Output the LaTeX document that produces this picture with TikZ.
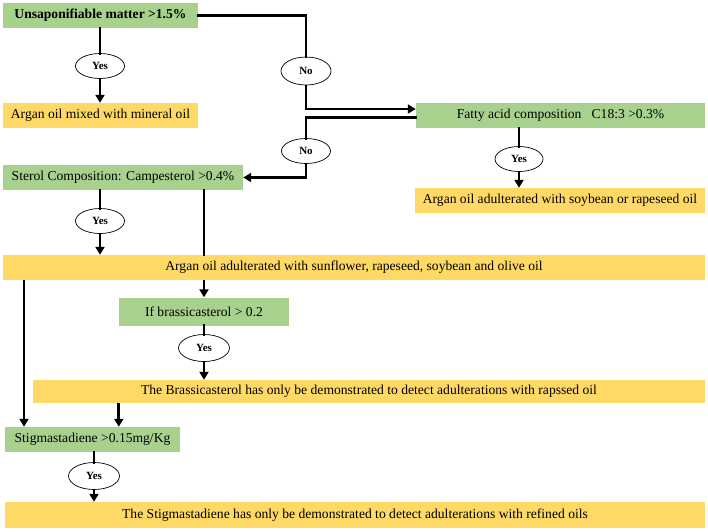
\documentclass[tikz,border=0pt]{standalone}
\usepackage{fontspec}
\setmainfont{Liberation Serif}
\usetikzlibrary{arrows.meta,shapes.geometric}
\definecolor{boxgreen}{HTML}{A9D18E}
\definecolor{boxyellow}{HTML}{FFD966}
\tikzset{
  gbox/.style={rectangle,fill=boxgreen,draw=none,inner sep=0pt,font=\fontsize{13.6}{15}\selectfont},
  ybox/.style={rectangle,fill=boxyellow,draw=none,inner sep=0pt,font=\fontsize{13.6}{15}\selectfont},
  oval/.style={ellipse,draw=black,line width=0.7pt,fill=white,inner sep=0pt,font=\fontsize{11}{12}\selectfont\bfseries},
  conn/.style={line width=2.8pt,line cap=rect},
  arr/.style={line width=2.8pt,-{Triangle[length=8pt,width=9pt]}},
}
\begin{document}
\begin{tikzpicture}[x=1pt,y=-1pt]
\useasboundingbox[fill=white] (0,0) rectangle (708,531);
% boxes
\node[gbox,minimum width=195pt,minimum height=25pt,font=\fontsize{13.6}{15}\selectfont\bfseries] (u) at (100.5,15.5) {Unsaponifiable matter >1.5\%};
\node[ybox,minimum width=195pt,minimum height=25pt] (m) at (100.5,115.5) {Argan oil mixed with mineral oil};
\node[gbox,minimum width=289pt,minimum height=25pt] (f) at (560.5,115.5) {Fatty acid composition\ \ \ C18:3 >0.3\%};
\node[ybox,minimum width=290pt,minimum height=25pt] (s2) at (560,200.5) {Argan oil adulterated with soybean or rapeseed oil};
\node[gbox,minimum width=240pt,minimum height=25pt] (st) at (123,177.5) {Sterol Composition: Campesterol >0.4\%};
\node[ybox,minimum width=702pt,minimum height=25pt] (a) at (354,267.5) {Argan oil adulterated with sunflower, rapeseed, soybean and olive oil};
\node[gbox,minimum width=170pt,minimum height=28pt] (b) at (204,311.5) {If brassicasterol > 0.2};
\node[ybox,minimum width=672pt,minimum height=23pt] (r) at (369,391.5) {The Brassicasterol has only be demonstrated to detect adulterations with rapssed oil};
\node[gbox,minimum width=175pt,minimum height=25pt] (sg) at (92.5,439.5) {Stigmastadiene >0.15mg/Kg};
\node[ybox,minimum width=700pt,minimum height=26pt] (fin) at (355,515) {The Stigmastadiene has only be demonstrated to detect adulterations with refined oils};
% ovals
\node[oval,minimum width=49pt,minimum height=25pt] (y1) at (100,66) {Yes};
\node[oval,minimum width=50pt,minimum height=28pt] (n1) at (306,71) {No};
\node[oval,minimum width=49pt,minimum height=25pt] (n2) at (306,151) {No};
\node[oval,minimum width=48pt,minimum height=25pt] (y2) at (519,159) {Yes};
\node[oval,minimum width=49pt,minimum height=25pt] (y3) at (100,221) {Yes};
\node[oval,minimum width=51pt,minimum height=27pt] (y4) at (204,348) {Yes};
\node[oval,minimum width=51pt,minimum height=27pt] (y5) at (94,476) {Yes};
\coordinate (lx) at (24,0);
% connectors
\draw[conn] (u.south -| y1.north) -- (y1.north);
\draw[arr] (y1.south) -- (m.north -| y1.south);
\draw[conn] (u.east) -| (n1.north);
\draw[arr] (n1.south) |- ([yshift=6.5pt]f.west);
\draw[conn] ([yshift=-2pt]f.west) -| (n2.north);
\draw[arr] (n2.south) |- (st.east);
\draw[conn] (f.south -| y2.north) -- (y2.north);
\draw[arr] (y2.south) -- (s2.north -| y2.south);
\draw[conn] (st.south -| y3.north) -- (y3.north);
\draw[arr] (y3.south) -- (a.north -| y3.south);
\draw[conn] (st.south -| b.north) -- (a.north -| b.north);
\draw[arr] (a.south -| b.north) -- (b.north);
\draw[conn] (b.south) -- (y4.north);
\draw[arr] (y4.south) -- (r.north -| y4.south);
\draw[arr] (lx |- a.south) -- (lx |- sg.north);
\draw[arr] (b.west |- r.south) -- (b.west |- sg.north);
\draw[conn] (sg.south -| y5.north) -- (y5.north);
\draw[arr] (y5.south) -- (fin.north -| y5.south);
\end{tikzpicture}
\end{document}
